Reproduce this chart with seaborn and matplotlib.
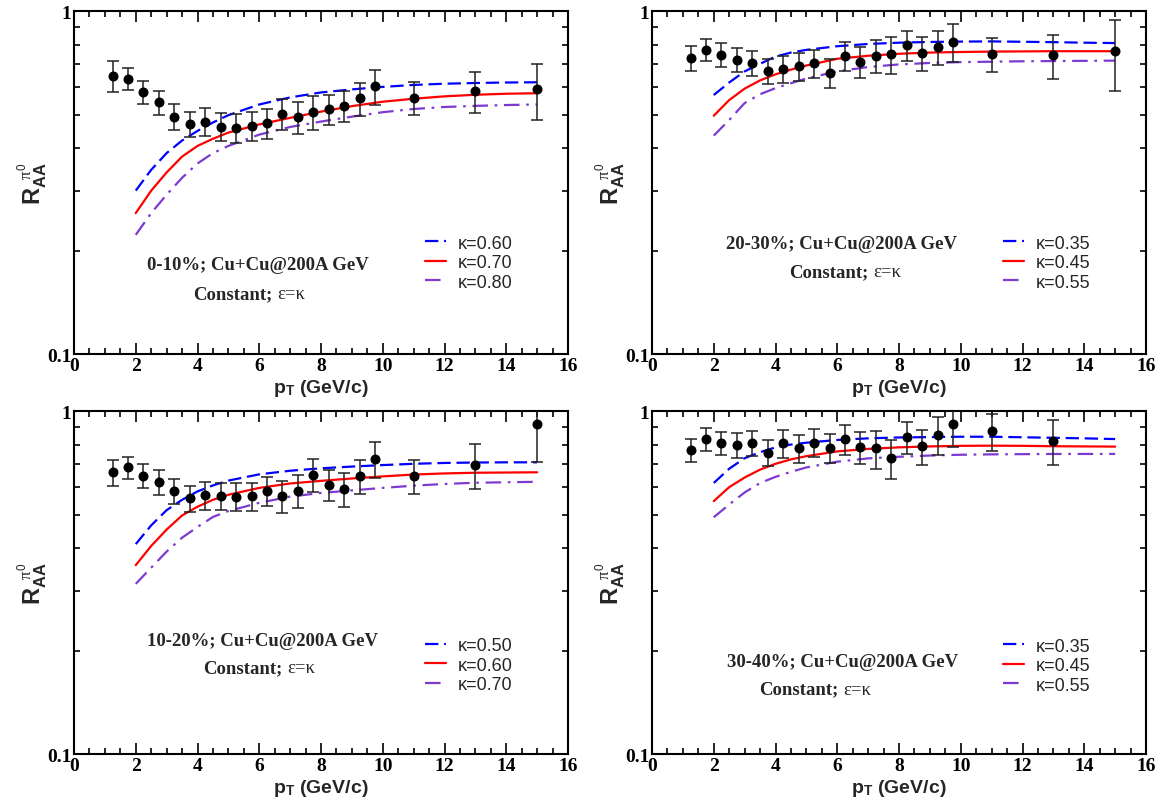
import numpy as np
import pandas as pd
import matplotlib
matplotlib.use("Agg")
import matplotlib.pyplot as plt
from matplotlib.ticker import LogLocator, NullFormatter, MultipleLocator, FixedLocator
import seaborn as sns

# ---- measured pi0 R_AA in Cu+Cu at 200A GeV ----
pt_data = [1.25, 1.75, 2.25, 2.75, 3.25, 3.75, 4.25, 4.75, 5.25, 5.75, 6.25,
           6.75, 7.25, 7.75, 8.25, 8.75, 9.25, 9.75, 11.0, 13.0, 15.0]

raa_0_10 = [0.649, 0.635, 0.581, 0.543, 0.493, 0.470, 0.477, 0.461, 0.458, 0.464, 0.472,
            0.502, 0.491, 0.508, 0.519, 0.531, 0.558, 0.604, 0.559, 0.586, 0.592]
err_0_10 = [0.066, 0.047, 0.045, 0.044, 0.042, 0.040, 0.044, 0.043, 0.045, 0.045, 0.047,
            0.052, 0.052, 0.057, 0.053, 0.056, 0.062, 0.072, 0.062, 0.080, 0.111]

raa_20_30 = [0.731, 0.771, 0.746, 0.723, 0.705, 0.671, 0.679, 0.693, 0.705, 0.661, 0.742,
             0.713, 0.742, 0.749, 0.797, 0.756, 0.787, 0.815, 0.751, 0.744, 0.765]
err_20_30 = [0.062, 0.057, 0.060, 0.058, 0.059, 0.057, 0.063, 0.065, 0.064, 0.064, 0.074,
             0.074, 0.082, 0.092, 0.082, 0.084, 0.088, 0.102, 0.087, 0.110, 0.180]

raa_10_20 = [0.665, 0.687, 0.648, 0.623, 0.584, 0.558, 0.570, 0.566, 0.564, 0.566, 0.587,
             0.566, 0.587, 0.654, 0.610, 0.595, 0.648, 0.725, 0.648, 0.699, 0.916]
err_10_20 = [0.058, 0.051, 0.052, 0.051, 0.049, 0.049, 0.053, 0.052, 0.052, 0.054, 0.058,
             0.060, 0.063, 0.072, 0.064, 0.068, 0.075, 0.088, 0.074, 0.105, 0.206]

pt_data_30_40 = pt_data[:-1]
raa_30_40 = [0.773, 0.829, 0.808, 0.797, 0.807, 0.757, 0.807, 0.780, 0.810, 0.783,
             0.829, 0.785, 0.780, 0.730, 0.841, 0.791, 0.855, 0.920, 0.876, 0.821]
err_30_40 = [0.060, 0.062, 0.064, 0.066, 0.068, 0.065, 0.075, 0.074, 0.075, 0.078,
             0.085, 0.083, 0.099, 0.095, 0.091, 0.092, 0.108, 0.134, 0.108, 0.125]

# ---- model curves (constant, epsilon = kappa) ----
pt_model = [2.0, 2.5, 3.0, 3.5, 4.0, 4.5, 5.0, 6.0, 7.0, 8.0, 9.0, 10.0, 11.0, 12.0, 13.0, 14.0, 15.0]

k060_0_10 = [0.300, 0.345, 0.386, 0.420, 0.448, 0.474, 0.498, 0.535, 0.561, 0.580, 0.592, 0.602, 0.610, 0.615, 0.618, 0.620, 0.621]
k070_0_10 = [0.258, 0.300, 0.339, 0.377, 0.405, 0.425, 0.443, 0.468, 0.489, 0.510, 0.529, 0.545, 0.556, 0.565, 0.571, 0.575, 0.577]
k080_0_10 = [0.223, 0.258, 0.292, 0.327, 0.360, 0.386, 0.405, 0.437, 0.460, 0.477, 0.493, 0.508, 0.519, 0.526, 0.530, 0.533, 0.535]

k035_20_30 = [0.570, 0.620, 0.668, 0.703, 0.738, 0.758, 0.772, 0.791, 0.803, 0.810, 0.814, 0.816, 0.817, 0.815, 0.813, 0.810, 0.808]
k045_20_30 = [0.496, 0.551, 0.595, 0.629, 0.655, 0.676, 0.695, 0.727, 0.742, 0.752, 0.758, 0.761, 0.763, 0.764, 0.765, 0.765, 0.765]
k055_20_30 = [0.434, 0.482, 0.540, 0.573, 0.597, 0.617, 0.637, 0.668, 0.688, 0.700, 0.707, 0.711, 0.713, 0.715, 0.716, 0.717, 0.718]

k050_10_20 = [0.410, 0.465, 0.515, 0.552, 0.584, 0.608, 0.628, 0.655, 0.671, 0.682, 0.690, 0.697, 0.703, 0.707, 0.709, 0.710, 0.710]
k060_10_20 = [0.356, 0.405, 0.452, 0.497, 0.527, 0.552, 0.571, 0.598, 0.616, 0.627, 0.637, 0.646, 0.654, 0.659, 0.662, 0.663, 0.664]
k070_10_20 = [0.314, 0.350, 0.390, 0.428, 0.460, 0.492, 0.512, 0.541, 0.564, 0.578, 0.588, 0.598, 0.607, 0.614, 0.619, 0.621, 0.623]

k035_30_40 = [0.618, 0.680, 0.730, 0.760, 0.785, 0.800, 0.810, 0.825, 0.834, 0.839, 0.841, 0.843, 0.843, 0.840, 0.837, 0.834, 0.830]
k045_30_40 = [0.547, 0.601, 0.641, 0.676, 0.703, 0.724, 0.740, 0.764, 0.777, 0.785, 0.790, 0.793, 0.794, 0.793, 0.791, 0.790, 0.789]
k055_30_40 = [0.491, 0.535, 0.580, 0.618, 0.644, 0.666, 0.686, 0.713, 0.729, 0.737, 0.743, 0.747, 0.749, 0.750, 0.751, 0.751, 0.751]

centralities = ["0-10%", "20-30%", "10-20%", "30-40%"]
kappa_labels = [["0.60", "0.70", "0.80"], ["0.35", "0.45", "0.55"],
                ["0.50", "0.60", "0.70"], ["0.35", "0.45", "0.55"]]

sns.set_style("ticks")
plt.rcParams["mathtext.fontset"] = "custom"
plt.rcParams["mathtext.rm"] = "Liberation Sans"
plt.rcParams["mathtext.bf"] = "Liberation Sans:bold"
plt.rcParams["mathtext.it"] = "Liberation Serif"
plt.rcParams["font.family"] = ["Liberation Sans", "DejaVu Sans"]

fig = plt.figure(figsize=(11.6, 8.03), dpi=100)
W = 494 / 1160
H = 343 / 803
positions = [(74 / 1160, 1 - 355.3 / 803), (652 / 1160, 1 - 355.3 / 803),
             (74 / 1160, 1 - 755.3 / 803), (652 / 1160, 1 - 755.3 / 803)]

panels = [
    (pt_data, raa_0_10, err_0_10, [k060_0_10, k070_0_10, k080_0_10]),
    (pt_data, raa_20_30, err_20_30, [k035_20_30, k045_20_30, k055_20_30]),
    (pt_data, raa_10_20, err_10_20, [k050_10_20, k060_10_20, k070_10_20]),
    (pt_data_30_40, raa_30_40, err_30_40, [k035_30_40, k045_30_40, k055_30_40]),
]

curve_styles = [
    dict(color="#0000ff", linestyle=(0, (6.0, 2.6))),
    dict(color="#ff0000", linestyle="-"),
    dict(color="#7d3ad0", linestyle=(0, (7.0, 3.0, 1.2, 3.0))),
]

# text placement: (x of first line centre, y first line, x second line centre, y second line), legend anchor y
annot = [
    (5.97, 0.183, 5.75, 0.150, 0.370),
    (6.14, 0.211, 6.35, 0.174, 0.370),
    (6.10, 0.215, 6.10, 0.179, 0.363),
    (6.16, 0.186, 5.38, 0.155, 0.361),
]

for i, (pt, raa, err, curves) in enumerate(panels):
    ax = fig.add_axes([positions[i][0], positions[i][1], W, H])

    for curve, style, kap in zip(curves, curve_styles, kappa_labels[i]):
        df = pd.DataFrame({"pt": pt_model, "raa": curve})
        sns.lineplot(data=df, x="pt", y="raa", ax=ax, lw=1.6,
                     label="\u03ba=" + kap, **style)

    ax.errorbar(pt, raa, yerr=err, fmt="none", ecolor="#222222",
                elinewidth=1.1, capsize=4.5, capthick=1.1, zorder=3)
    dfd = pd.DataFrame({"pt": pt, "raa": raa})
    sns.scatterplot(data=dfd, x="pt", y="raa", ax=ax, color="black", s=52,
                    edgecolor="black", linewidth=0, zorder=4)

    ax.set_yscale("log")
    ax.set_xlim(0, 16)
    ax.set_ylim(0.1, 1.0)
    ax.xaxis.set_major_locator(MultipleLocator(2))
    ax.xaxis.set_minor_locator(MultipleLocator(0.5))
    ax.yaxis.set_major_locator(FixedLocator([0.1, 1.0]))
    ax.set_yticklabels(["0.1", "1"])
    ax.yaxis.set_minor_locator(LogLocator(base=10, subs=np.arange(2, 10)))
    ax.yaxis.set_minor_formatter(NullFormatter())
    ax.tick_params(which="both", direction="in", top=True, right=True,
                   width=1.2, colors="black")
    ax.tick_params(which="major", length=8, pad=2)
    ax.tick_params(which="minor", length=4.5)
    for lab in ax.get_xticklabels() + ax.get_yticklabels():
        lab.set_fontfamily("Liberation Serif")
        lab.set_fontweight("bold")
        lab.set_fontsize(14)
    for sp in ax.spines.values():
        sp.set_linewidth(1.5)
        sp.set_color("black")

    ax.set_xlabel("p$_\\mathbf{T}$ (GeV/c)", fontsize=14, fontweight="bold",
                  family="Liberation Sans", labelpad=2)
    ax.set_ylabel(r"$\mathbf{R}_{\mathbf{AA}}^{\ \ \pi^{0}}$", fontsize=17)
    ax.yaxis.set_label_coords(-0.05, 0.5)

    x1, y1, x2, y2, ly = annot[i]
    ax.text(x1, y1, centralities[i] + "; Cu+Cu@200A GeV", ha="center", va="center",
            family="Liberation Serif", fontweight="bold", fontsize=13.5)
    ax.text(x2 + 0.66, y2, "Constant;", ha="right", va="center",
            family="Liberation Serif", fontweight="bold", fontsize=13.5)
    ax.text(x2 + 0.82, y2, "\u03b5=\u03ba", ha="left", va="center",
            family="Liberation Serif", fontsize=13.5)

    ax.legend(loc="upper left", bbox_to_anchor=(0.695, ly), frameon=False,
              fontsize=13, handlelength=1.2, handletextpad=0.65,
              labelspacing=0.14, borderaxespad=0)

fig.savefig("out.png", dpi=100, facecolor="white")
